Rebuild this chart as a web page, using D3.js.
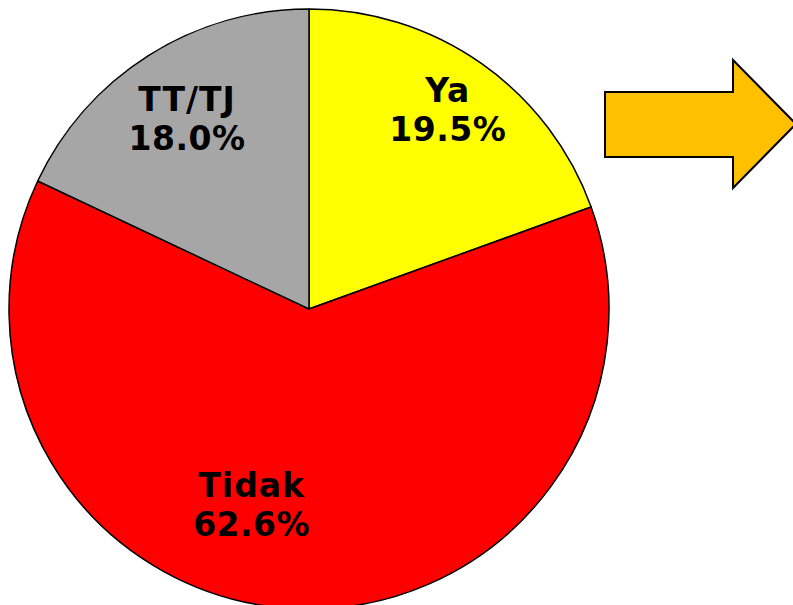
<!DOCTYPE html>
<html lang="id">
<head>
  <meta charset="UTF-8">
  <title>Ya / Tidak / TT-TJ</title>
  <script src="https://d3js.org/d3.v7.min.js"></script>
  <style>
    body { margin: 0; background: #fff; font-family: Verdana, "DejaVu Sans", sans-serif; }
    svg { display: block; }
  </style>
</head>
<body>
  <script>
    // data
    const categories = ["Ya", "Tidak", "TT/TJ"];
    const values = [19.5, 62.6, 18.0];
    const colors = ["#FFFF00", "#FF0000", "#A6A6A6"];

    const width = 793, height = 605;
    const cx = 309, cy = 309, radius = 300;

    const svg = d3.select("body").append("svg")
      .attr("width", width)
      .attr("height", height);

    const pie = d3.pie().sort(null).value(d => d.value);
    const arcs = pie(categories.map((c, i) => ({ name: c, value: values[i], color: colors[i] })));

    const arc = d3.arc().innerRadius(0).outerRadius(radius);

    const g = svg.append("g").attr("transform", `translate(${cx},${cy})`);

    g.selectAll("path")
      .data(arcs)
      .enter()
      .append("path")
      .attr("d", arc)
      .attr("fill", d => d.data.color)
      .attr("stroke", "#000")
      .attr("stroke-width", 1.5)
      .attr("stroke-linejoin", "round");

    // label placement (angle offset in degrees, radius), tuned to the slide
    const labelLayout = {
      "Ya": { dAng: 1.5, r: 233 },
      "Tidak": { dAng: 12.7, r: 216 },
      "TT/TJ": { dAng: -2, r: 216 }
    };

    const labels = g.selectAll("g.lbl")
      .data(arcs)
      .enter()
      .append("g")
      .attr("class", "lbl")
      .attr("transform", d => {
        const L = labelLayout[d.data.name];
        const a = (d.startAngle + d.endAngle) / 2 + L.dAng * Math.PI / 180;
        return `translate(${L.r * Math.sin(a)},${-L.r * Math.cos(a)})`;
      });

    labels.append("text")
      .attr("text-anchor", "middle")
      .attr("y", -20)
      .style("font-size", "33px")
      .style("font-weight", "bold")
      .style("letter-spacing", "1px")
      .text(d => d.data.name);

    labels.append("text")
      .attr("text-anchor", "middle")
      .attr("y", 19)
      .style("font-size", "33px")
      .style("font-weight", "bold")
      .style("letter-spacing", "0.5px")
      .text(d => d.data.value.toFixed(1) + "%");

    // block arrow pointing right
    const arrow = [
      [605, 92], [733, 92], [733, 60], [796, 124],
      [733, 188], [733, 157], [605, 157]
    ];
    svg.append("path")
      .attr("d", d3.line()(arrow) + "Z")
      .attr("fill", "#FFC000")
      .attr("stroke", "#000")
      .attr("stroke-width", 2)
      .attr("stroke-linejoin", "miter");
  </script>
</body>
</html>
